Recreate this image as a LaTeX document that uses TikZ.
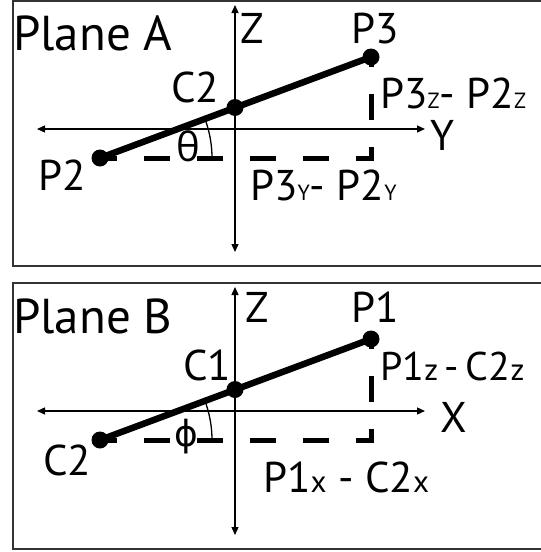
\documentclass[tikz,border=0pt]{standalone}
\usepackage{fontspec}
\setmainfont{PT Sans}
\newfontfamily\greekfont{Open Sans}
\newfontfamily\phifont{DejaVu Sans}
\usetikzlibrary{arrows.meta}
\definecolor{frame-line}{HTML}{333333}
\newcommand{\capsub}[1]{{\fontsize{22}{22}\selectfont #1}}
\newcommand{\smallsub}[1]{{\fontsize{31}{31}\selectfont #1}}
\tikzset{
  panel/.style={draw=frame-line, line width=2pt},
  axis/.style={{Triangle[length=8pt,width=7pt]}-{Triangle[length=8pt,width=7pt]}, line width=1.3pt},
  seg/.style={line width=6.5pt},
  proj/.style={line width=5pt, dash pattern=on 26pt off 27pt, dash phase=9pt},
  dot/.style={circle, fill=black, minimum size=17pt, inner sep=0pt},
  lbl/.style={inner sep=0pt, anchor=base west, font=\fontsize{43}{43}\selectfont},
  title/.style={inner sep=0pt, anchor=base west, font=\fontsize{49}{49}\selectfont},
  ang/.style={inner sep=0pt, font=\fontsize{40}{40}\selectfont}
}

\begin{document}
\begin{tikzpicture}[x=1pt, y=-1pt]
  \useasboundingbox (0,0) rectangle (541,552);

  % ---- Plane A -------------------------------------------------------------
  \draw[panel] (13,1) rectangle (545,266);
  \node[title] (plane-a) at (13,50) {Plane A};

  \coordinate (a-top) at (235,5);
  \coordinate (a-bot) at (235,252);
  \coordinate (a-left) at (37,129);
  \coordinate (a-right) at (425,129);
  \draw[axis] (a-top) -- (a-bot);
  \draw[axis] (a-left) -- (a-right);
  \node[lbl] (a-z) at (240,43) {Z};
  \node[lbl] (a-y) at (430,150) {Y};

  \coordinate (a-corner) at (371,158);
  \node[dot] (a-p2) at (100,158) {};
  \node[dot] (a-c2) at (235,107.5) {};
  \node[dot] (a-p3) at (371,57) {};

  \draw[proj] (a-p2.center) -- (a-corner) -- (a-p3.center);
  \draw[seg] (a-p2.center) -- (a-p3.center);
  \draw[line width=1.3pt] (a-p2.center) ++(112,0) arc[start angle=0, end angle=-20.4, radius=112];

  \node[lbl] (a-p3-lbl) at (351,43) {P3};
  \node[lbl] (a-c2-lbl) at (171,102) {C2};
  \node[lbl] (a-p2-lbl) at (38,190) {P2};
  \node[ang, font=\greekfont\fontsize{40}{40}\selectfont] (a-theta) at (188,146) {θ};
  \node[lbl] (a-dz) at (380,108) {P3\capsub{Z}- P2\capsub{Z}};
  \node[lbl] (a-dy) at (250,200) {P3\capsub{Y}- P2\capsub{Y}};

  % ---- Plane B -------------------------------------------------------------
  \draw[panel] (13,283) rectangle (545,549);
  \node[title] (plane-b) at (13,333) {Plane B};

  \coordinate (b-top) at (235,287);
  \coordinate (b-bot) at (235,535);
  \coordinate (b-left) at (37,411);
  \coordinate (b-right) at (425,411);
  \draw[axis] (b-top) -- (b-bot);
  \draw[axis] (b-left) -- (b-right);
  \node[lbl] (b-z) at (245,322) {Z};
  \node[lbl] (b-x) at (440,432) {X};

  \coordinate (b-corner) at (371,440);
  \node[dot] (b-c2) at (100,440) {};
  \node[dot] (b-c1) at (235,389.5) {};
  \node[dot] (b-p1) at (371,339) {};

  \draw[proj] (b-c2.center) -- (b-corner) -- (b-p1.center);
  \draw[seg] (b-c2.center) -- (b-p1.center);
  \draw[line width=1.3pt] (b-c2.center) ++(112,0) arc[start angle=0, end angle=-20.4, radius=112];

  \node[lbl] (b-p1-lbl) at (351,322) {P1};
  \node[lbl] (b-c1-lbl) at (183,380) {C1};
  \node[lbl] (b-c2-lbl) at (43,475) {C2};
  \node[ang, font=\phifont\fontsize{36}{36}\selectfont] (b-phi) at (186,437) {ϕ};
  \node[lbl, font=\fontsize{40}{40}\selectfont] (b-dz) at (380,380) {P1\smallsub{z}\,-\,C2\smallsub{z}};
  \node[lbl] (b-dx) at (263,492) {P1\smallsub{x} - C2\smallsub{x}};
\end{tikzpicture}
\end{document}
